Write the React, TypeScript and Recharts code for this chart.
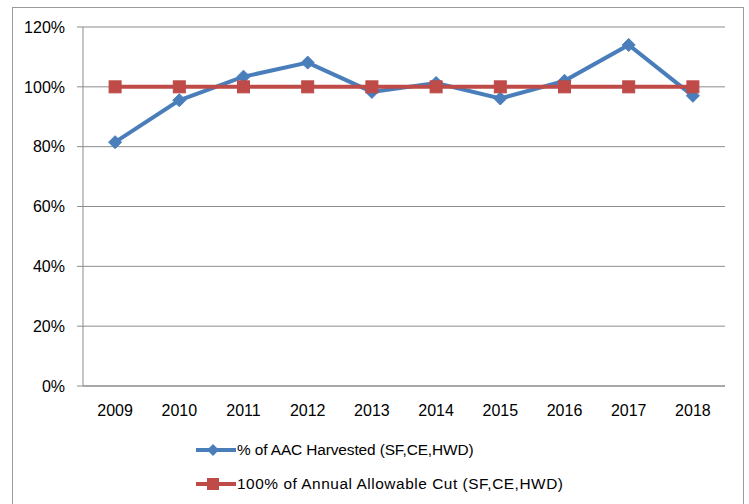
import React from 'react'
import {
  LineChart,
  Line,
  XAxis,
  YAxis,
  CartesianGrid,
} from 'recharts'

const YEARS = ['2009', '2010', '2011', '2012', '2013', '2014', '2015', '2016', '2017', '2018']
const HARVESTED = [0.815, 0.955, 1.034, 1.081, 0.983, 1.013, 0.961, 1.02, 1.14, 0.97]
const AAC = [1, 1, 1, 1, 1, 1, 1, 1, 1, 1]
const Y_TICKS = [0, 0.2, 0.4, 0.6, 0.8, 1, 1.2]
const BOUNDARY_TICKS = [0, 1, 2, 3, 4, 5, 6, 7, 8, 9, 10]

const SERIES_NAMES = [
  '% of AAC Harvested (SF,CE,HWD)',
  '100% of Annual Allowable Cut (SF,CE,HWD)',
]

const BLUE = '#4a7ebb'
const RED = '#be4b48'
const GRID = '#8c8c8c'
const FONT = '"Liberation Sans", Arial, sans-serif'

// each year sits in the middle of its band
const data = YEARS.map((year, i) => ({
  pos: i + 0.5,
  year,
  harvested: HARVESTED[i],
  aac: AAC[i],
}))

const Diamond = (props: any) => {
  const { cx, cy } = props
  if (cx == null || cy == null) return null
  const r = 6.5
  return (
    <polygon
      points={`${cx},${cy - r} ${cx + r},${cy} ${cx},${cy + r} ${cx - r},${cy}`}
      fill={BLUE}
      stroke={BLUE}
    />
  )
}

const Square = (props: any) => {
  const { cx, cy } = props
  if (cx == null || cy == null) return null
  const s = 12
  return <rect x={cx - s / 2} y={cy - s / 2} width={s} height={s} fill={RED} stroke={RED} strokeWidth={1} />
}

function LegendRow({ color, marker, label, spacing }: { color: string; marker: 'diamond' | 'square'; label: string; spacing: number }) {
  return (
    <div style={{ display: 'flex', alignItems: 'center', height: 34 }}>
      <svg width={40} height={16} style={{ marginRight: 1 }}>
        <line x1={0} y1={8} x2={40} y2={8} stroke={color} strokeWidth={4} />
        {marker === 'diamond' ? (
          <polygon points="17,2 23,8 17,14 11,8" fill={color} />
        ) : (
          <rect x={11} y={2} width={12} height={12} fill={color} />
        )}
      </svg>
      <span style={{ fontSize: 15.4, letterSpacing: spacing, color: '#000', whiteSpace: 'nowrap' }}>{label}</span>
    </div>
  )
}

export default function App() {
  return (
    <div style={{ position: 'absolute', left: 0, top: 0, width: 749, height: 504, overflow: 'hidden', fontFamily: FONT, background: '#fff' }}>
      <div
        style={{
          position: 'absolute',
          left: 12,
          top: 7,
          width: 732,
          height: 520,
          border: '1px solid #9a9a9a',
          boxSizing: 'border-box',
        }}
      />
      <div style={{ position: 'absolute', left: 0, top: 0 }}>
        <LineChart
          width={749}
          height={504}
          data={data}
          margin={{ top: 27, right: 24, bottom: 77, left: 0 }}
        >
          <CartesianGrid vertical={false} stroke={GRID} strokeWidth={1} />
          <XAxis
            xAxisId="bounds"
            dataKey="pos"
            type="number"
            domain={[0, 10]}
            ticks={BOUNDARY_TICKS}
            tick={false}
            tickLine={{ stroke: GRID }}
            tickSize={6}
            axisLine={{ stroke: GRID }}
            height={1}
          />
          <XAxis
            xAxisId="labels"
            dataKey="pos"
            type="number"
            domain={[0, 10]}
            ticks={data.map((d) => d.pos)}
            tickFormatter={(v: number) => YEARS[Math.floor(v)]}
            axisLine={false}
            tickLine={false}
            tick={{ fontSize: 16, fill: '#000', fontFamily: FONT }}
            tickMargin={12}
            interval={0}
            height={40}
          />
          <YAxis
            domain={[0, 1.2]}
            ticks={Y_TICKS}
            tickFormatter={(v: number) => `${Math.round(v * 100)}%`}
            width={83}
            tickSize={6}
            tickMargin={12}
            tickLine={{ stroke: GRID }}
            axisLine={{ stroke: GRID }}
            tick={{ fontSize: 16, fill: '#000', fontFamily: FONT }}
          />
          <Line
            xAxisId="bounds"
            dataKey="harvested"
            name={SERIES_NAMES[0]}
            stroke={BLUE}
            strokeWidth={4}
            dot={<Diamond />}
            activeDot={false}
            isAnimationActive={false}
          />
          <Line
            xAxisId="bounds"
            dataKey="aac"
            name={SERIES_NAMES[1]}
            stroke={RED}
            strokeWidth={4}
            dot={<Square />}
            activeDot={false}
            isAnimationActive={false}
          />
        </LineChart>
      </div>
      <div style={{ position: 'absolute', left: 196, top: 433 }}>
        <LegendRow color={BLUE} marker="diamond" label={SERIES_NAMES[0]} spacing={-0.1} />
        <LegendRow color={RED} marker="square" label={SERIES_NAMES[1]} spacing={0.55} />
      </div>
    </div>
  )
}
